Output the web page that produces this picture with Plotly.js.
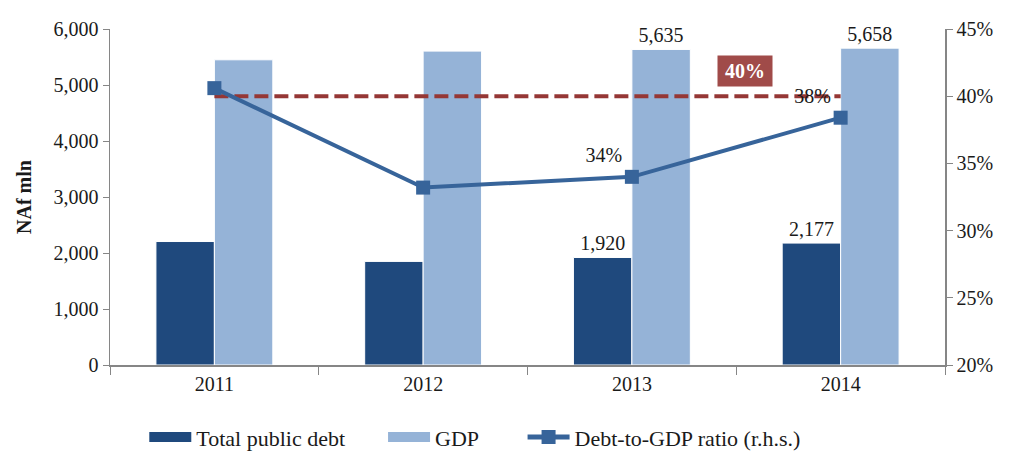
<!DOCTYPE html>
<html>
<head>
<meta charset="utf-8">
<script src="https://cdn.plot.ly/plotly-3.0.1.min.js"></script>
<style>html,body{margin:0;padding:0;background:#fff;}#chart{width:1009px;height:453px;}</style>
</head>
<body>
<div id="chart"></div>
<script>
var years = ['2011', '2012', '2013', '2014'];
var debt = [2205, 1850, 1920, 2177];
var gdp = [5450, 5605, 5635, 5658];
var ratio = [40.6, 33.2, 34.0, 38.4];
var threshold = [40, 40, 40, 40];
var debtLabels = ['', '', '1,920', '2,177'];
var gdpLabels = ['', '', '5,635', '5,658'];
var ratioLabels = ['', '', '34%', '38%'];
var thresholdLabel = '40%';
var legendNames = ['Total public debt', 'GDP', 'Debt-to-GDP ratio (r.h.s.)'];

var F = 'Liberation Serif, Times New Roman, serif';
var txt = '#1a1a1a';
var cDebt = '#1F497D', cGdp = '#95B3D7', cLine = '#37649A', cThr = '#953735';
var pad = function (n) { return '\u00a0'.repeat(n); };

var traces = [
  {type: 'bar', name: legendNames[0], x: years, y: debt, showlegend: false,
   marker: {color: cDebt, line: {color: '#ffffff', width: 1}},
   text: debtLabels, textposition: 'outside', cliponaxis: false,
   textfont: {family: F, size: 20, color: txt}, hoverinfo: 'y'},
  {type: 'bar', name: legendNames[1], x: years, y: gdp, showlegend: false,
   marker: {color: cGdp, line: {color: '#ffffff', width: 1}},
   text: gdpLabels, textposition: 'outside', cliponaxis: false,
   textfont: {family: F, size: 20, color: txt}, hoverinfo: 'y'},
  {type: 'scatter', mode: 'lines', name: '40% threshold', x: years, y: threshold,
   yaxis: 'y2', showlegend: false,
   line: {color: cThr, width: 4, dash: '14px,6px'}},
  {type: 'scatter', mode: 'lines+markers+text', name: legendNames[2],
   x: years, y: ratio, yaxis: 'y2', cliponaxis: false, showlegend: false,
   line: {color: cLine, width: 4},
   marker: {symbol: 'square', size: 14, color: cLine},
   text: ratioLabels, textposition: 'top left',
   textfont: {family: F, size: 20, color: txt}},
  // legend entries (wide swatches as in the reference)
  {type: 'scatter', mode: 'lines', name: legendNames[0] + pad(6), x: [null], y: [null],
   line: {color: cDebt, width: 13}, legendrank: 1},
  {type: 'scatter', mode: 'lines', name: legendNames[1] + pad(7), x: [null], y: [null],
   line: {color: cGdp, width: 13}, legendrank: 2},
  {type: 'scatter', mode: 'lines+markers', name: legendNames[2], x: [null], y: [null],
   yaxis: 'y2', line: {color: cLine, width: 5},
   marker: {symbol: 'square', size: 14, color: cLine}, legendrank: 3}
];

var layout = {
  width: 1009, height: 453,
  margin: {l: 110, r: 64, t: 29, b: 88},
  paper_bgcolor: '#ffffff', plot_bgcolor: '#ffffff',
  font: {family: F, size: 20, color: txt},
  barmode: 'group', bargap: 0.44, bargroupgap: 0,
  showlegend: true,
  legend: {orientation: 'h', xref: 'container', yref: 'container',
           x: 0.143, xanchor: 'left', y: 0.035, yanchor: 'middle',
           font: {family: F, size: 22, color: txt}, tracegroupgap: 0,
           itemwidth: 42, borderwidth: 0, bgcolor: 'rgba(0,0,0,0)'},
  xaxis: {type: 'category', showgrid: false, showline: true, linecolor: '#868686', linewidth: 1.5,
          ticks: 'outside', tickson: 'boundaries', ticklen: 8, tickcolor: '#868686',
          tickfont: {family: F, size: 20, color: txt}, zeroline: false},
  yaxis: {range: [0, 6000], dtick: 1000, tickformat: ',d', showgrid: false,
          showline: true, linecolor: '#868686', linewidth: 1.5,
          ticks: 'outside', ticklen: 6, tickcolor: '#868686',
          tickfont: {family: F, size: 20, color: txt}, zeroline: false,
          title: {text: '<b>NAf mln</b>', font: {family: F, size: 20, color: txt}, standoff: 16}},
  yaxis2: {overlaying: 'y', side: 'right', range: [20, 45], dtick: 5, ticksuffix: '%',
           showgrid: false, showline: true, linecolor: '#868686', linewidth: 1.5,
           ticks: 'outside', ticklen: 6, tickcolor: '#868686',
           tickfont: {family: F, size: 20, color: txt}, zeroline: false},
  annotations: [
    {xref: 'x', yref: 'y2', x: 2.54, y: 41.9, text: '<b>' + thresholdLabel + '</b>', showarrow: false,
     bgcolor: '#A04B49', font: {family: F, size: 20, color: '#ffffff'},
     borderpad: 4, width: 46}
  ]
};

Plotly.newPlot('chart', traces, layout, {displayModeBar: false, staticPlot: true});
</script>
</body>
</html>
